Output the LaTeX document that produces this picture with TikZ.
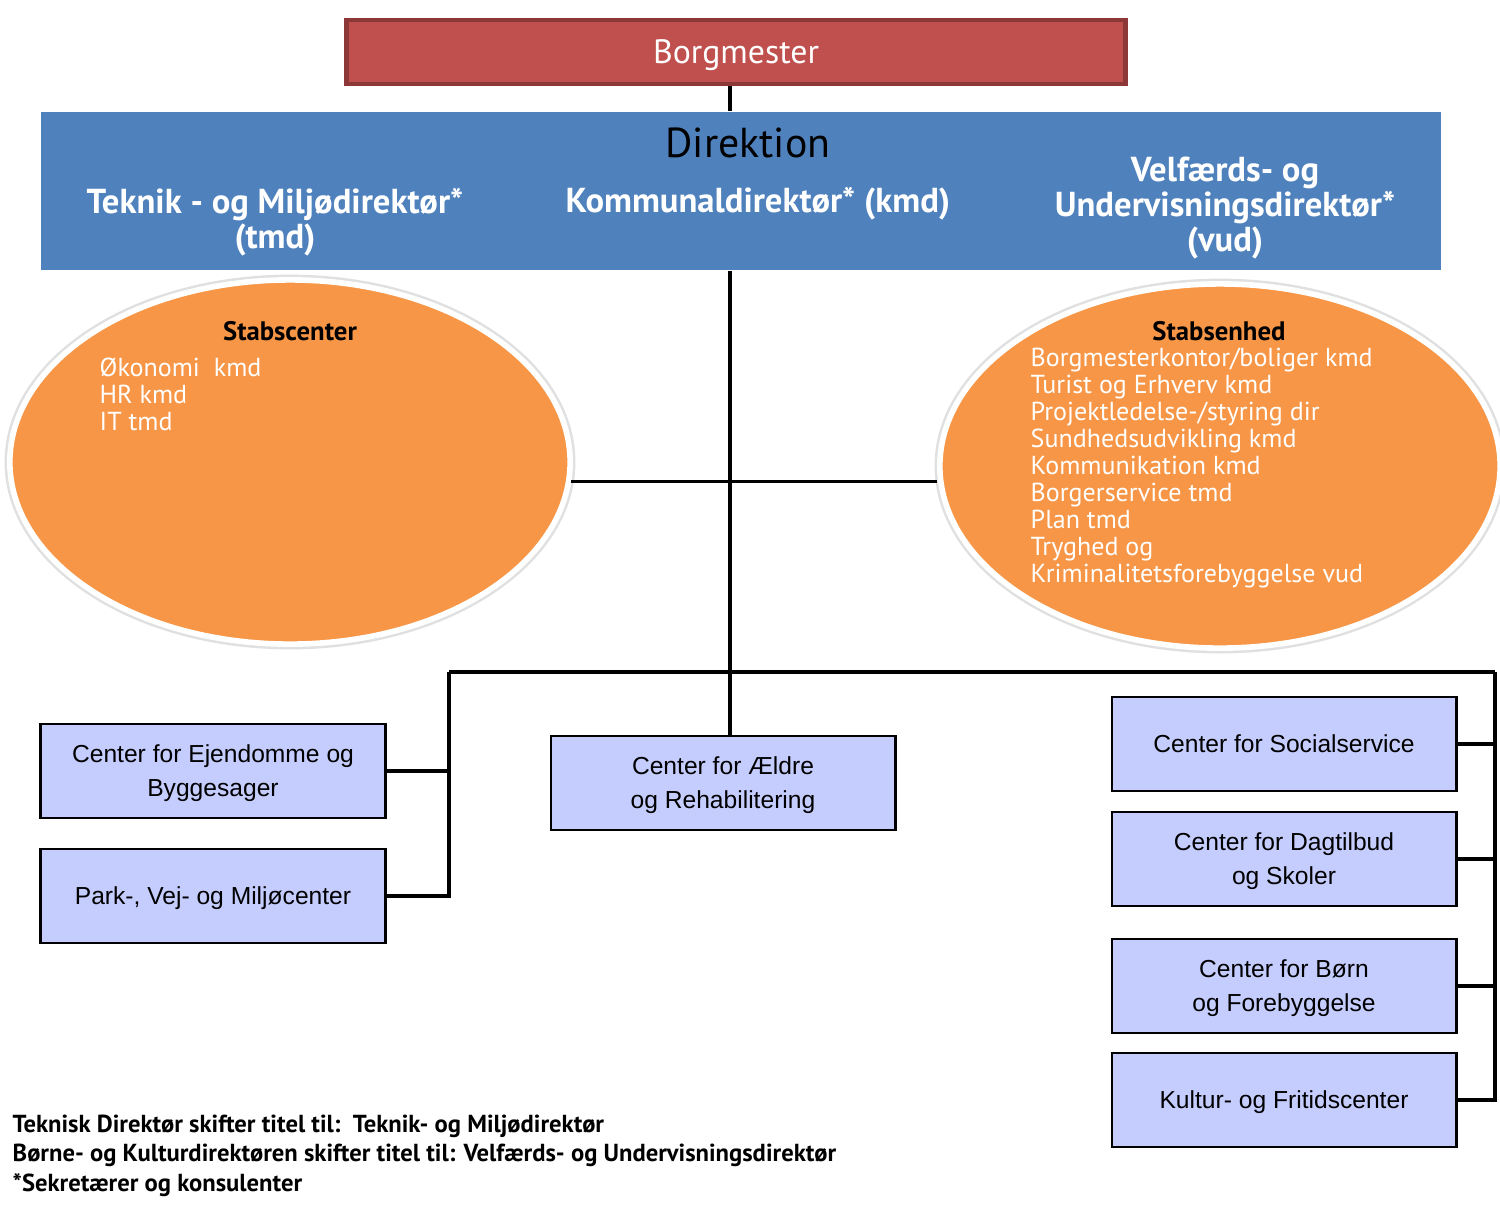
\documentclass[tikz,border=0pt]{standalone}
\usepackage{fontspec}
\setmainfont{Liberation Sans}
\newfontfamily\headfont{PT Sans}
\usepackage{tikz}
\usetikzlibrary{positioning,shapes.geometric,calc}

\definecolor{mayorred}{HTML}{C0504D}
\definecolor{mayoredge}{HTML}{8C3836}
\definecolor{dirblue}{HTML}{4F81BD}
\definecolor{staforange}{HTML}{F79646}
\definecolor{centerblue}{HTML}{C5CDFE}

\begin{document}
\begin{tikzpicture}[
    x=0.01cm, y=-0.01cm,
    line/.style={draw=black, line width=0.9pt},
    mayor/.style={
        rectangle,
        draw=mayoredge,
        line width=1.3pt,
        fill=mayorred,
        minimum width=7.78cm,
        minimum height=0.64cm,
        text depth=0pt,
        text=white,
        font=\headfont\fontsize{9.6}{11}\selectfont
    },
    board/.style={
        rectangle,
        fill=dirblue,
        minimum width=14cm,
        minimum height=1.58cm
    },
    boardtext/.style={
        text=white,
        align=center,
        font=\headfont\bfseries\fontsize{9.85}{10}\selectfont
    },
    staff/.style={
        ellipse,
        fill=staforange,
        draw=white,
        line width=1.6pt,
        inner sep=0pt,
        minimum width=5.6cm,
        minimum height=3.64cm,
        preaction={draw=black!12, line width=3pt}
    },
    stafftitle/.style={
        font=\headfont\bfseries\fontsize{7.6}{8}\selectfont
    },
    stafflist/.style={
        anchor=north west,
        inner sep=0pt,
        align=left,
        text=white,
        font=\headfont\fontsize{7.4}{7.7}\selectfont
    },
    center/.style={
        rectangle,
        draw=black,
        line width=0.8pt,
        fill=centerblue,
        minimum width=3.44cm,
        minimum height=0.94cm,
        text depth=0pt,
        align=center,
        font=\fontsize{7}{9.7}\selectfont
    },
    note/.style={
        anchor=north west,
        inner sep=0pt,
        align=left,
        font=\headfont\bfseries\fontsize{7}{8.4}\selectfont
    }
]
    \useasboundingbox (0,0) rectangle (1500,1214);

    % Top
    \node[mayor] (mayor) at (736,52) {Borgmester};
    \node[board] (board) at (741,191) {};
    \node[font=\headfont\fontsize{11.9}{14}\selectfont] (direktion) at (748,143) {Direktion};
    \node[boardtext] (tmd) at (275,222) {Teknik - og Miljødirektør*\\(tmd)};
    \node[boardtext] (kmd) at (758,204) {Kommunaldirektør* (kmd)};
    \node[boardtext] (vud) at (1225,208) {Velfærds- og\\Undervisningsdirektør*\\(vud)};

    % Staff units
    \node[staff] (stabc) at (290,462) {};
    \node[staff] (stabe) at (1220,466) {};
    \node[stafftitle] (stabctitle) at (290,331) {Stabscenter};
    \node[stafflist] (stabclist) at (99,357) {Økonomi\ \ kmd\\HR kmd\\IT tmd};
    \node[stafftitle] (stabetitle) at (1219,331) {Stabsenhed};
    \node[stafflist] (stabelist) at (1030,347) {Borgmesterkontor/boliger kmd\\Turist og Erhverv kmd\\Projektledelse-/styring dir\\Sundhedsudvikling kmd\\Kommunikation kmd\\Borgerservice tmd\\Plan tmd\\Tryghed og\\Kriminalitetsforebyggelse vud};

    % Centers
    \node[center] (ejendom) at (213,771) {Center for Ejendomme og\\Byggesager};
    \node[center] (park) at (213,896) {Park-, Vej- og Miljøcenter};
    \node[center] (aeldre) at (723,783) {Center for Ældre\\og Rehabilitering};
    \node[center] (social) at (1284,744) {Center for Socialservice};
    \node[center] (dagtilbud) at (1284,859) {Center for Dagtilbud\\og Skoler};
    \node[center] (boern) at (1284,986) {Center for Børn\\og Forebyggelse};
    \node[center] (kultur) at (1284,1100) {Kultur- og Fritidscenter};

    % Lines
    \coordinate (trunk) at (730,672);
    \coordinate (busL) at (449,672);
    \coordinate (busR) at (1495,672);
    \draw[line] (trunk |- mayor.south) -- (trunk |- board.north);
    \draw[line] (trunk |- board.south) -- (trunk |- aeldre.north);
    \draw[line] (stabc.-4.2) -- (stabc.-4.2 -| stabe.west);
    \draw[line] (busL) -- (busR);
    \draw[line] (busL) |- (park.east);
    \draw[line] (ejendom.east) -- (ejendom.east -| busL);
    \draw[line] (busR) |- (kultur.east);
    \draw[line] (social.east) -- (social.east -| busR);
    \draw[line] (dagtilbud.east) -- (dagtilbud.east -| busR);
    \draw[line] (boern.east) -- (boern.east -| busR);

    % Notes
    \node[note] (notes) at (12,1114) {Teknisk Direktør skifter titel til:\ \ Teknik- og Miljødirektør\\Børne- og Kulturdirektøren skifter titel til: Velfærds- og Undervisningsdirektør\\*Sekretærer og konsulenter};
\end{tikzpicture}
\end{document}
